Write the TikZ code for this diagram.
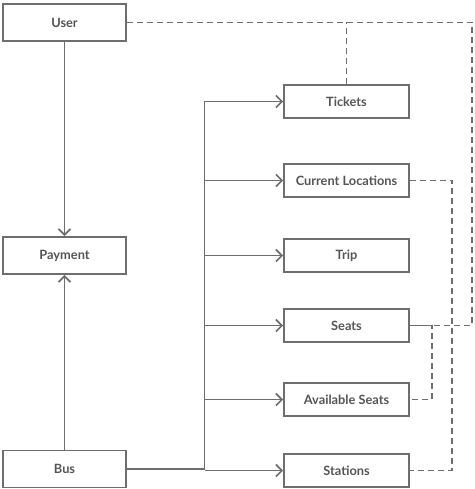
\documentclass[tikz,border=0pt]{standalone}
\usepackage{fontspec}
\setmainfont{Lato}
\usepackage{tikz}
\usetikzlibrary{positioning,arrows.meta}
\definecolor{colorline} {RGB}{110,110,110}
\definecolor{colortext} {RGB}{85 ,85 ,85 }

\begin{document}
\begin{tikzpicture}[
    x=1pt, y=-1pt,
    font={\fontsize{12.8pt}{14pt}\selectfont\bfseries},
    >={Straight Barb[length=6pt,width=12pt]},
    base/.style={text=colortext,draw=colorline,line width=1.7pt,fill=white,rectangle,align=center,inner sep=0pt},
    leftbox/.style={base,minimum width=123pt,minimum height=37pt},
    rightbox/.style={base,minimum width=125pt,minimum height=33pt},
    link/.style={draw=colorline,line width=1.7pt},
    dep/.style={link,dashed,dash pattern=on 6pt off 4pt},
]
    \useasboundingbox (0,0) rectangle (474,489);

    % Nodes
    \node[leftbox]  (user)      at (64.5,22.5)  {User};
    \node[leftbox]  (payment)   at (64.5,255.5) {Payment};
    \node[leftbox]  (bus)       at (64.5,469)   {Bus};
    \node[rightbox] (tickets)   at (346.5,101.5) {Tickets};
    \node[rightbox] (curloc)    at (346.5,180.5) {Current Locations};
    \node[rightbox] (trip)      at (346.5,255.5) {Trip};
    \node[rightbox] (seats)     at (346.5,325.5) {Seats};
    \node[rightbox] (avseats)   at (346.5,399.5) {Available Seats};
    \node[rightbox] (stations)  at (346.5,470.5) {Stations};

    \coordinate (trunk) at (204.5,0);

    % Arrows
    \draw[link,->] (user) -- (payment);
    \draw[link,->] (bus) -- (payment);
    \draw[link] (bus.east) -- (bus.east -| trunk) -- (tickets.west -| trunk);
    \draw[link,->] (tickets.west -| trunk) -- (tickets);
    \draw[link,->] (curloc.west -| trunk) -- (curloc);
    \draw[link,->] (trip.west -| trunk) -- (trip);
    \draw[link,->] (seats.west -| trunk) -- (seats);
    \draw[link,->] (avseats.west -| trunk) -- (avseats);
    \draw[link,->] (stations.west -| trunk) -- (stations);

    % Dashed links
    \draw[dep] (user.east) -| (472,0 |- seats.east) -- (seats.east);
    \draw[dep] (tickets.north) -- (tickets.north |- user.east);
    \draw[dep] (curloc.east) -| (452,0 |- stations.east) -- (stations.east);
    \draw[dep] (seats.east) -| (432,0 |- avseats.east) -- (avseats.east);

\end{tikzpicture}
\end{document}
